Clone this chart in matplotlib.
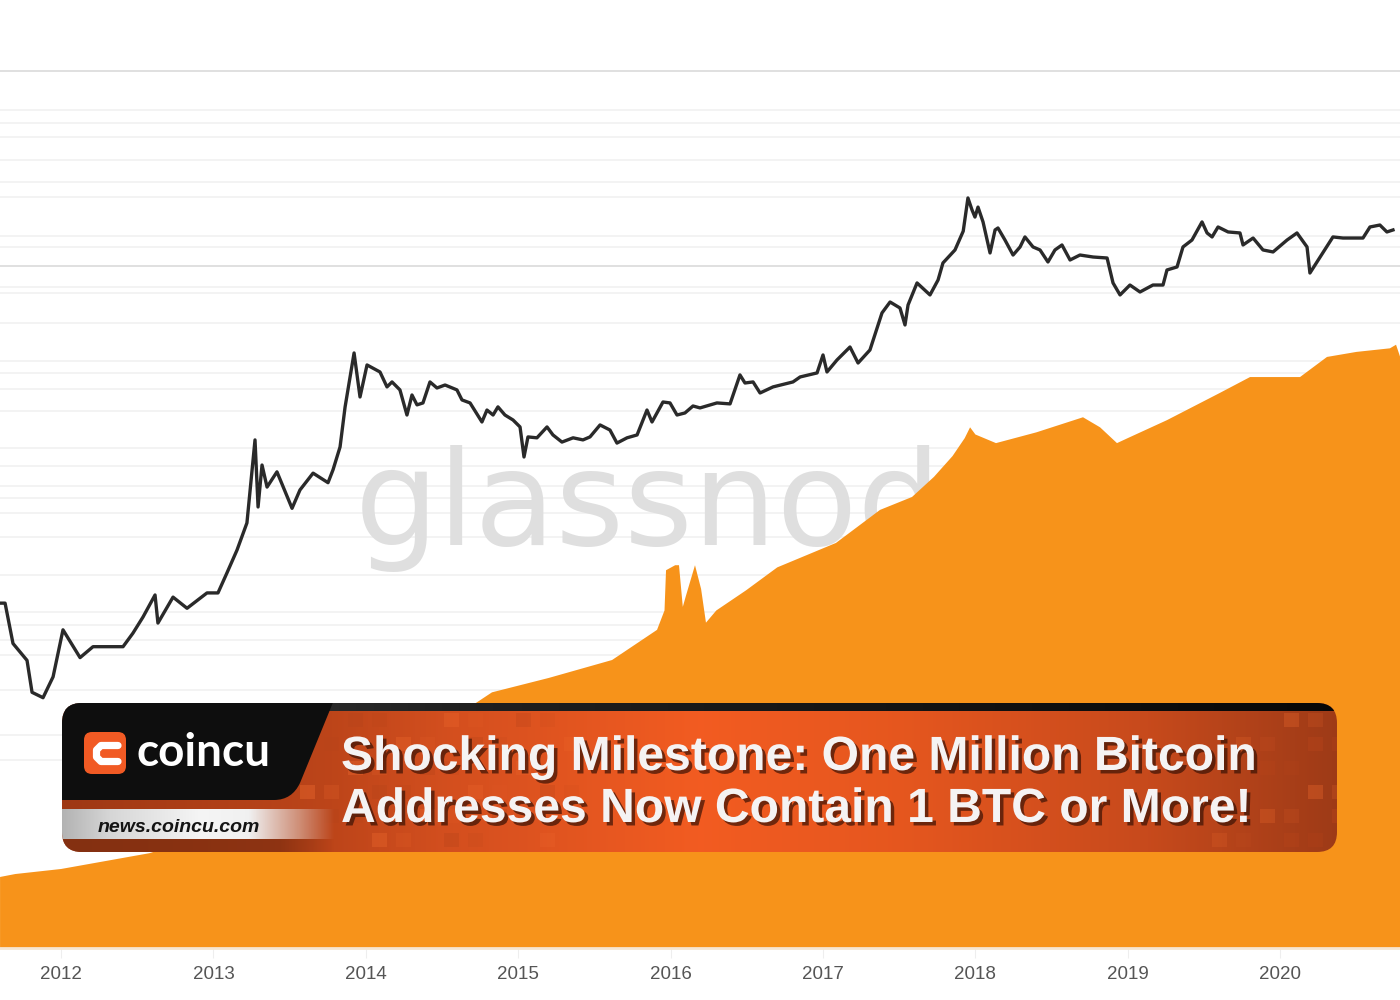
import numpy as np
import matplotlib
matplotlib.use('Agg')
import matplotlib.pyplot as plt
import matplotlib.patheffects as pe
from matplotlib.patches import FancyBboxPatch, PathPatch, Rectangle
from matplotlib.path import Path

# BTC price (USD, log axis); time in decimal years
price_t = [2011.600, 2011.633, 2011.685, 2011.777, 2011.810, 2011.882, 2011.948,
           2012.013, 2012.125, 2012.210, 2012.407, 2012.472, 2012.538, 2012.617,
           2012.636, 2012.735, 2012.827, 2012.958, 2013.030, 2013.089, 2013.155,
           2013.220, 2013.273, 2013.293, 2013.319, 2013.352, 2013.417, 2013.516,
           2013.568, 2013.654, 2013.752, 2013.785, 2013.831, 2013.864, 2013.923,
           2013.962, 2014.008, 2014.093, 2014.139, 2014.172, 2014.224, 2014.270,
           2014.303, 2014.336, 2014.375, 2014.421, 2014.467, 2014.520, 2014.598,
           2014.631, 2014.684, 2014.762, 2014.795, 2014.835, 2014.867, 2014.913,
           2014.966, 2015.012, 2015.038, 2015.064, 2015.123, 2015.189, 2015.228,
           2015.287, 2015.360, 2015.425, 2015.471, 2015.537, 2015.602, 2015.648,
           2015.714, 2015.780, 2015.845, 2015.878, 2015.950, 2015.996, 2016.042,
           2016.094, 2016.147, 2016.193, 2016.304, 2016.390, 2016.455, 2016.488,
           2016.541, 2016.587, 2016.672, 2016.803, 2016.850, 2016.961, 2017.000,
           2017.026, 2017.092, 2017.177, 2017.230, 2017.308, 2017.387, 2017.440,
           2017.505, 2017.538, 2017.558, 2017.617, 2017.702, 2017.755, 2017.787,
           2017.866, 2017.920, 2017.951, 2017.978, 2017.997, 2018.017, 2018.050,
           2018.096, 2018.129, 2018.148, 2018.194, 2018.247, 2018.293, 2018.325,
           2018.378, 2018.424, 2018.476, 2018.522, 2018.568, 2018.621, 2018.686,
           2018.772, 2018.864, 2018.903, 2018.949, 2019.014, 2019.080, 2019.165,
           2019.231, 2019.257, 2019.323, 2019.362, 2019.421, 2019.487, 2019.520,
           2019.553, 2019.592, 2019.658, 2019.736, 2019.756, 2019.822, 2019.887,
           2019.953, 2020.045, 2020.110, 2020.176, 2020.195, 2020.262, 2020.346,
           2020.412, 2020.543, 2020.589, 2020.654, 2020.700, 2020.740]
price_usd = [11.0, 11.0, 5.2, 3.8, 2.1, 1.9, 2.8,
             6.7, 4.0, 4.9, 4.9, 6.3, 8.5, 12.8,
             7.6, 12.3, 10.0, 13.3, 13.3, 19.3, 29.5,
             48.8, 228, 65.6, 143, 95, 126, 64,
             90, 123, 103, 131, 200, 420, 1146,
             506, 917, 805, 610, 669, 577, 362,
             525, 437, 453, 669, 598, 632, 577,
             479, 453, 318, 397, 362, 421, 362,
             330, 290, 166, 241, 237, 290, 250,
             219, 237, 228, 241, 301, 274, 215,
             237, 250, 397, 318, 461, 453, 362,
             376, 428, 413, 453, 445, 762, 656,
             669, 545, 610, 669, 734, 791, 1104,
             805, 1007, 1280, 951, 1211, 2410, 2952,
             2642, 1927, 2794, 4206, 3366, 4446, 6096,
             7760, 11000, 20380, 16290, 14300, 17200, 13060,
             7340, 11250, 11670, 9334, 7064, 8204, 9880,
             8204, 7760, 6208, 7760, 8512, 6442, 7064,
             6808, 6684, 4206, 3366, 4046, 3556, 4046,
             4046, 5350, 5660, 8204, 9334, 13060, 10640,
             9880, 11890, 10840, 10640, 8512, 9684, 7760,
             7478, 9334, 10640, 8204, 5058, 6808, 9880,
             9684, 9684, 11890, 12330, 10840, 11250]

# addresses holding >= 1 BTC (linear axis)
addr_t = [2011.600, 2011.700, 2012.000, 2012.580, 2013.000, 2013.500, 2014.000,
          2014.500, 2014.828, 2015.200, 2015.616, 2015.911, 2015.960, 2015.970,
          2016.030, 2016.055, 2016.080, 2016.100, 2016.160, 2016.200, 2016.232,
          2016.300, 2016.495, 2016.700, 2017.085, 2017.374, 2017.584, 2017.728,
          2017.850, 2017.930, 2017.965, 2018.000, 2018.135, 2018.400, 2018.706,
          2018.818, 2018.929, 2019.000, 2019.257, 2019.605, 2019.802, 2020.130,
          2020.307, 2020.500, 2020.720, 2020.760, 2020.787]
addr_count = [98900, 103000, 110000, 132000, 160000, 200000, 250000,
              310000, 356000, 376000, 401000, 443000, 470000, 526000,
              533000, 533000, 475000, 490000, 533000, 500000, 453000,
              470000, 498000, 530000, 564000, 610000, 628000, 656000,
              685000, 710000, 725000, 715000, 703000, 718000, 739000,
              725000, 703000, 710000, 735000, 773000, 795000, 795000,
              823000, 830000, 835000, 840000, 823000]

years = [2012, 2013, 2014, 2015, 2016, 2017, 2018, 2019, 2020]

grid_minor = [1166800, 1148700, 1129200, 1097200, 1066600, 1045700, 991400,
              976100, 920400, 912000, 870300, 817300, 800600, 778400, 747700,
              696200, 671100, 643300, 626600, 605700, 572300, 519400, 467800,
              449700, 428900, 408000, 359200, 296600, 261800]
grid_major = [1221100, 949600]

title1 = 'Shocking Milestone: One Million Bitcoin'
title2 = 'Addresses Now Contain 1 BTC or More!'

fig = plt.figure(figsize=(14, 10), dpi=100)
fig.patch.set_facecolor('white')

ax = fig.add_axes([0, 0.052, 1, 0.948])
ax.set_xlim(2011.5997, 2020.786)
ax.set_ylim(0, 1.32e6)
for g in grid_minor:
    ax.axhline(g, color='#f1f1f1', lw=1.2, zorder=0)
for g in grid_major:
    ax.axhline(g, color='#dadada', lw=1.2, zorder=0)

ax.text(0.2536, 0.425, 'glassnode', transform=ax.transAxes, ha='left',
        va='baseline', fontsize=95, family='DejaVu Sans', color='#dfdfdf', zorder=1)

ax.fill_between(addr_t, 0, addr_count, color='#f7931a', lw=0, zorder=2)

ax.set_xticks(years)
ax.set_xticklabels([str(y) for y in years], fontsize=13.5, color='#555555',
                   family='Liberation Sans')
ax.tick_params(axis='x', length=7, color='#eeeeee', pad=6)
ax.set_yticks([])
for s in ['top', 'left', 'right']:
    ax.spines[s].set_visible(False)
ax.spines['bottom'].set_color('#f6e6d2')
ax.spines['bottom'].set_linewidth(2)

ax2 = ax.twinx()
ax2.set_yscale('log')
ax2.set_ylim(0.0182, 805000)
ax2.plot(price_t, price_usd, color='#2a2a2a', lw=2.4, solid_joinstyle='round')
ax2.set_yticks([])
ax2.minorticks_off()
for s in ax2.spines.values():
    s.set_visible(False)

# ---- coincu banner overlay (pixel coordinates) ----
ov = fig.add_axes([0, 0, 1, 1], zorder=10)
ov.set_xlim(0, 1400)
ov.set_ylim(1000, 0)
ov.axis('off')
ov.patch.set_alpha(0)

box = FancyBboxPatch((62, 703), 1275, 149, boxstyle='round,pad=0,rounding_size=20',
                     fc='none', ec='none')
ov.add_patch(box)

stops_x = [62, 330, 450, 700, 900, 1150, 1337]
stops_c = np.array([[0.62, 0.22, 0.08], [0.74, 0.27, 0.10], [0.83, 0.31, 0.12],
                    [0.95, 0.36, 0.13], [0.90, 0.34, 0.12], [0.78, 0.29, 0.11],
                    [0.62, 0.23, 0.09]])
gx = np.linspace(62, 1337, 600)
grad = np.stack([np.interp(gx, stops_x, stops_c[:, k]) for k in range(3)], axis=-1)
im = ov.imshow(grad[None, :, :], extent=(62, 1337, 852, 703), aspect='auto', zorder=1)
im.set_clip_path(box)

# pixel squares
for i, yy in enumerate([713, 737, 761, 785, 809, 833]):
    for j, xx in enumerate(range(300, 1337, 24)):
        w = max(0.0, 1 - (xx - 300) / 280.0) + max(0.0, (xx - 1200) / 140.0)
        v = (i * 3 + j * 5) % 7
        if w <= 0 or v > 3:
            continue
        col = '#f36d30' if v % 2 == 0 else '#b8441a'
        r = Rectangle((xx, yy), 15, 14, fc=col, ec='none', alpha=min(0.6, 0.2 * w + 0.08 * v),
                      zorder=2)
        ov.add_patch(r)
        r.set_clip_path(box)

# dark top band
band = np.stack([np.interp(gx, [62, 500, 1337], [0.22, 0.12, 0.03])] * 3, axis=-1)
im2 = ov.imshow(band[None, :, :], extent=(62, 1337, 711, 703), aspect='auto', zorder=3)
im2.set_clip_path(box)

# black logo panel
verts = [(55, 700), (334, 700), (300, 783), (292, 800), (274, 800), (55, 800), (55, 700)]
codes = [Path.MOVETO, Path.LINETO, Path.LINETO, Path.CURVE3, Path.CURVE3, Path.LINETO,
         Path.CLOSEPOLY]
blk = PathPatch(Path(verts, codes), fc='#0e0e0e', ec='none', zorder=4)
ov.add_patch(blk)
blk.set_clip_path(box)

# silver url bar
sx = np.linspace(62, 335, 300)
silver = np.zeros((1, 300, 4))
for k in range(3):
    silver[0, :, k] = np.interp(sx, [62, 110, 200, 260, 335], [0.70, 0.84, 0.96, 0.94, 0.90])
silver[0, :, 3] = np.interp(sx, [62, 250, 300, 335], [1, 1, 0.45, 0])
im3 = ov.imshow(silver, extent=(62, 335, 839, 809), aspect='auto', zorder=4)
im3.set_clip_path(box)

brown = np.zeros((1, 300, 4))
brown[0, :, 0], brown[0, :, 1], brown[0, :, 2] = 0.52, 0.19, 0.07
brown[0, :, 3] = np.interp(sx, [62, 280, 335], [1, 0.8, 0])
im4 = ov.imshow(brown, extent=(62, 335, 852, 839), aspect='auto', zorder=4)
im4.set_clip_path(box)

# logo
ov.add_patch(FancyBboxPatch((84, 732), 42, 42, boxstyle='round,pad=0,rounding_size=8',
                            fc='#f15a24', ec='none', zorder=5))
ov.plot([118, 101, 96.5, 96.5, 101, 118], [745.5, 745.5, 750, 757, 761.5, 761.5],
        color='white', lw=5.2, solid_capstyle='round', solid_joinstyle='round', zorder=6)
ov.text(137, 766, 'coincu', fontsize=33, family='Lato', weight='bold', color='white',
        va='baseline', zorder=6)
ov.text(98, 832, 'news.coincu.com', fontsize=14, family='Liberation Sans', weight='bold',
        style='italic', color='#141414', va='baseline', zorder=6)

shadow = [pe.withSimplePatchShadow(offset=(2.5, -2.5), shadow_rgbFace='#3a1205', alpha=0.7)]
ov.text(341, 770, title1, fontsize=34.6, family='Liberation Sans', weight='bold',
        color='#f5f3f3', va='baseline', zorder=7, path_effects=shadow)
ov.text(341, 822, title2, fontsize=34.6, family='Liberation Sans', weight='bold',
        color='#f5f3f3', va='baseline', zorder=7, path_effects=shadow)

fig.savefig('out.png', dpi=100)
